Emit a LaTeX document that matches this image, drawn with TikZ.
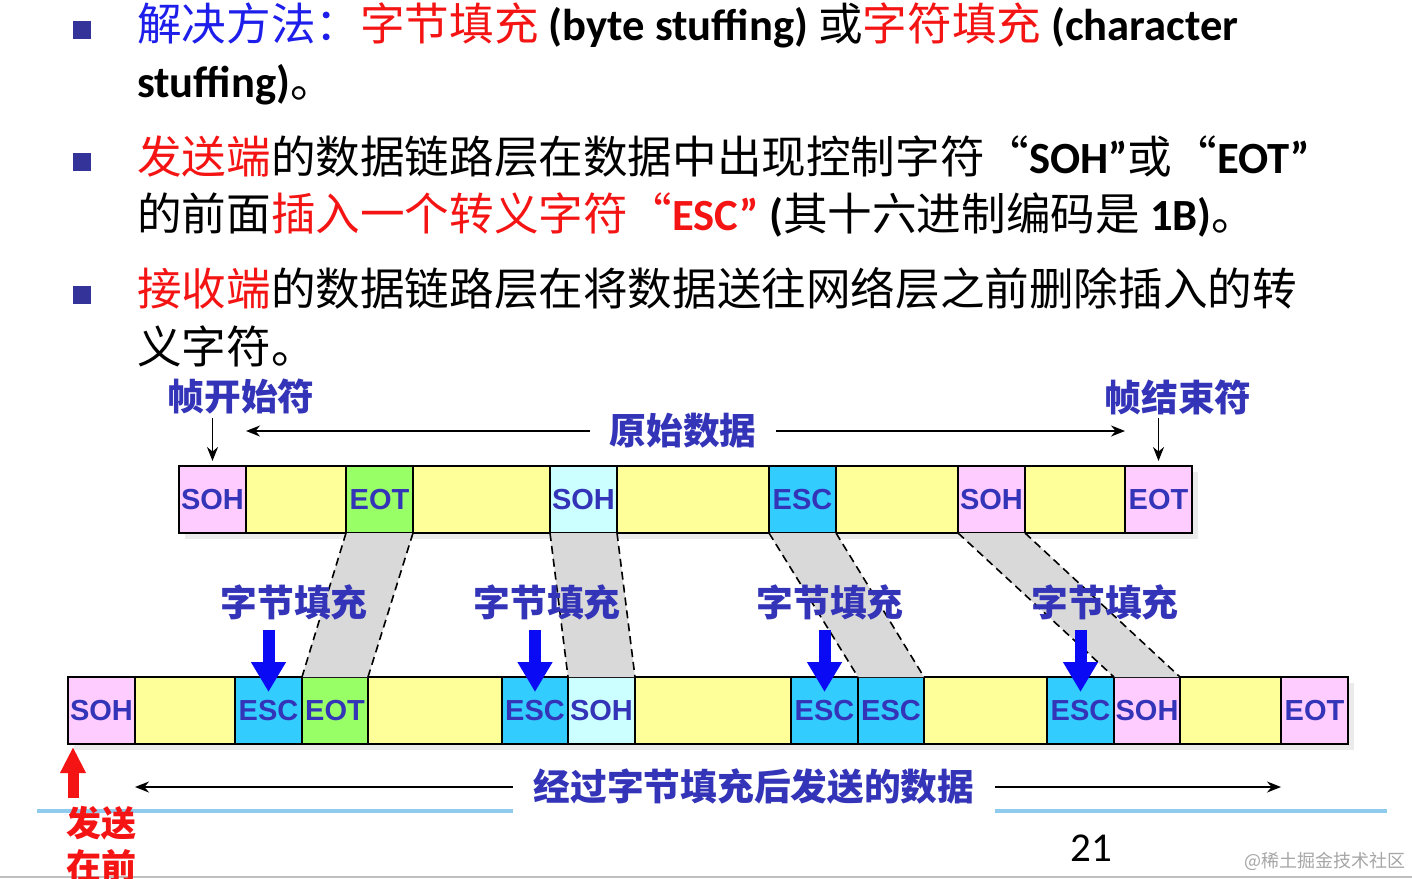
\documentclass[tikz,border=0pt]{standalone}
\usepackage{fontspec}
\setmainfont{Carlito}
\newfontfamily\zhfont{Noto Sans CJK SC}
\newfontfamily\cellfont{Liberation Sans}
\usetikzlibrary{arrows.meta,calc,positioning}
\definecolor{titleBlue}{HTML}{1E1EEB}
\definecolor{alertRed}{HTML}{F51414}
\definecolor{labelBlue}{HTML}{3434B8}
\definecolor{pureBlue}{HTML}{0A0AF5}
\definecolor{bulletNavy}{HTML}{333399}
\definecolor{pinkCell}{HTML}{FFCCFF}
\definecolor{dataYellow}{HTML}{FFFF99}
\definecolor{eotGreen}{HTML}{99FF66}
\definecolor{sohCyan}{HTML}{CCFFFF}
\definecolor{escBlue}{HTML}{33CCFF}
\definecolor{stuffGray}{HTML}{D9D9D9}
\definecolor{slideLine}{HTML}{8FCBEF}
\newcommand{\zh}[1]{{\zhfont #1}}
\newcommand{\lt}[1]{{\bfseries #1}}
\tikzset{
  cell/.style={draw=black, line width=2.4pt, minimum height=67pt, inner sep=0pt, outer sep=0pt,
    font=\cellfont\bfseries\fontsize{29}{29}\selectfont, text=labelBlue},
  headline/.style={anchor=base west, inner sep=0pt, font=\fontsize{44.6}{50}\selectfont},
  bullet/.style={fill=bulletNavy, minimum size=18pt, inner sep=0pt},
  tagLbl/.style={font=\zhfont\bfseries\fontsize{36.7}{40}\selectfont, text=labelBlue, inner sep=0pt},
  thinArrow/.style={-{Stealth[length=14pt,width=11pt]}, line width=1.8pt},
  stuffArrow/.style={-{Triangle[length=30pt,width=33pt]}, line width=12pt, draw=pureBlue},
  sendArrow/.style={-{Triangle[length=26pt,width=24pt]}, line width=11pt, draw=alertRed},
  bandEdge/.style={dash pattern=on 8pt off 5pt, line width=1.6pt},
}

\begin{document}
\begin{tikzpicture}[x=1pt,y=-1pt]
  \fill[white] (0,0) rectangle (1412,878);
  \useasboundingbox (0,0) rectangle (1412,878);
  \draw[slideLine, line width=4pt] (37,811) -- (1387,811);
  \draw[black!25, line width=1.5pt] (0,877) -- (1412,877);

  \node[bullet] (dot1) at (81.5,30) {};
  \node[bullet] (dot2) at (81.5,161.5) {};
  \node[bullet] (dot3) at (81.5,295) {};
  \node[headline] (line1) at (137,40) {\zh{\color{titleBlue}解决方法：}\zh{\color{alertRed}字节填充}\lt{ (byte stuffing) }\zh{或}\zh{\color{alertRed}字符填充}\lt{ (character}};
  \node[headline] (line2) at (137,97) {\lt{stuffing)}\zh{。}};
  \node[headline] (line3) at (137,173) {\zh{\color{alertRed}发送端}\zh{的数据链路层在数据中出现控制字符“}\lt{SOH”}\zh{或“}\lt{EOT”}};
  \node[headline] (line4) at (137,230) {\zh{的前面}{\color{alertRed}\zh{插入一个转义字符“}\lt{ESC”}}\lt{ (}\zh{其十六进制编码是}\lt{ 1B)}\zh{。}};
  \node[headline] (line5) at (137,305) {\zh{\color{alertRed}接收端}\zh{的数据链路层在将数据送往网络层之前删除插入的转}};
  \node[headline] (line6) at (137,363) {\zh{义字符。}};

  \fill[black!8] (185,472) rectangle (1198,539);
  \fill[black!8] (74,683) rectangle (1354,750);

  \node[cell, fill=pinkCell, minimum width=67pt, anchor=west] (aSoh) at (179,499.5) {SOH};
  \node[cell, fill=dataYellow, minimum width=100pt, right=0pt of aSoh] (aD1) {};
  \node[cell, fill=eotGreen, minimum width=67pt, right=0pt of aD1] (aEot) {EOT};
  \node[cell, fill=dataYellow, minimum width=137pt, right=0pt of aEot] (aD2) {};
  \node[cell, fill=sohCyan, minimum width=67pt, right=0pt of aD2] (aSohIn) {SOH};
  \node[cell, fill=dataYellow, minimum width=152pt, right=0pt of aSohIn] (aD3) {};
  \node[cell, fill=escBlue, minimum width=67pt, right=0pt of aD3] (aEsc) {ESC};
  \node[cell, fill=dataYellow, minimum width=122pt, right=0pt of aEsc] (aD4) {};
  \node[cell, fill=pinkCell, minimum width=67pt, right=0pt of aD4] (aSohIn2) {SOH};
  \node[cell, fill=dataYellow, minimum width=100pt, right=0pt of aSohIn2] (aD5) {};
  \node[cell, fill=pinkCell, minimum width=67pt, right=0pt of aD5] (aEot2) {EOT};

  \node[cell, fill=pinkCell, minimum width=67pt, anchor=west] (bSoh) at (68,710.5) {SOH};
  \node[cell, fill=dataYellow, minimum width=100pt, right=0pt of bSoh] (bD1) {};
  \node[cell, fill=escBlue, minimum width=67pt, right=0pt of bD1] (bEsc1) {ESC};
  \node[cell, fill=eotGreen, minimum width=66pt, right=0pt of bEsc1] (bEot) {EOT};
  \node[cell, fill=dataYellow, minimum width=134pt, right=0pt of bEot] (bD2) {};
  \node[cell, fill=escBlue, minimum width=66pt, right=0pt of bD2] (bEsc2) {ESC};
  \node[cell, fill=sohCyan, minimum width=67pt, right=0pt of bEsc2] (bSoh1) {SOH};
  \node[cell, fill=dataYellow, minimum width=156pt, right=0pt of bSoh1] (bD3) {};
  \node[cell, fill=escBlue, minimum width=67pt, right=0pt of bD3] (bEsc3) {ESC};
  \node[cell, fill=escBlue, minimum width=66pt, right=0pt of bEsc3] (bEsc) {ESC};
  \node[cell, fill=dataYellow, minimum width=123pt, right=0pt of bEsc] (bD4) {};
  \node[cell, fill=escBlue, minimum width=67pt, right=0pt of bD4] (bEsc4) {ESC};
  \node[cell, fill=pinkCell, minimum width=66pt, right=0pt of bEsc4] (bSoh2) {SOH};
  \node[cell, fill=dataYellow, minimum width=101pt, right=0pt of bSoh2] (bD5) {};
  \node[cell, fill=pinkCell, minimum width=67pt, right=0pt of bD5] (bEot2) {EOT};

  \fill[stuffGray] (aEot.south west) -- (aEot.south east) -- (bEot.north east) -- (bEot.north west) -- cycle;
  \fill[stuffGray] (aSohIn.south west) -- (aSohIn.south east) -- (bSoh1.north east) -- (bSoh1.north west) -- cycle;
  \fill[stuffGray] (aEsc.south west) -- (aEsc.south east) -- (bEsc.north east) -- (bEsc.north west) -- cycle;
  \fill[stuffGray] (aSohIn2.south west) -- (aSohIn2.south east) -- (bSoh2.north east) -- (bSoh2.north west) -- cycle;
  \draw[bandEdge] (aEot.south west) -- (bEot.north west) (aEot.south east) -- (bEot.north east);
  \draw[bandEdge] (aSohIn.south west) -- (bSoh1.north west) (aSohIn.south east) -- (bSoh1.north east);
  \draw[bandEdge] (aEsc.south west) -- (bEsc.north west) (aEsc.south east) -- (bEsc.north east);
  \draw[bandEdge] (aSohIn2.south west) -- (bSoh2.north west) (aSohIn2.south east) -- (bSoh2.north east);

  \node[tagLbl] (startLbl) at (241,397) {帧开始符};
  \node[tagLbl] (endLbl) at (1178,397) {帧结束符};
  \node[tagLbl, inner xsep=19.5pt] (origLbl) at (683,431) {原始数据};
  \draw[thinArrow, shorten <=3pt, shorten >=5pt] (aSoh.north |- startLbl.south) -- (aSoh.north);
  \draw[thinArrow, shorten <=3pt, shorten >=5pt] (aEot2.north |- endLbl.south) -- (aEot2.north);
  \draw[thinArrow] (origLbl.west) -- (origLbl.west -| aSoh.east);
  \draw[thinArrow] (origLbl.east) -- (origLbl.east -| aEot2.west);

  \node[tagLbl] (stuff1) at (294,602) {字节填充};
  \node[tagLbl] (stuff2) at (547,602) {字节填充};
  \node[tagLbl] (stuff3) at (830,602) {字节填充};
  \node[tagLbl] (stuff4) at (1105,602) {字节填充};
  \draw[stuffArrow] ($(bEsc1.north)+(0,-47)$) -- ($(bEsc1.north)+(0,15)$);
  \draw[stuffArrow] ($(bEsc2.north)+(0,-47)$) -- ($(bEsc2.north)+(0,15)$);
  \draw[stuffArrow] ($(bEsc3.north)+(0,-47)$) -- ($(bEsc3.north)+(0,15)$);
  \draw[stuffArrow] ($(bEsc4.north)+(0,-47)$) -- ($(bEsc4.north)+(0,15)$);

  \node[tagLbl, fill=white, inner xsep=21pt, inner ysep=8pt] (sentLbl) at (754,787) {经过字节填充后发送的数据};
  \draw[thinArrow] (sentLbl.west) -- (sentLbl.west -| bSoh.east);
  \draw[thinArrow] (sentLbl.east) -- (sentLbl.east -| bEot2.west);

  \node[anchor=north west, inner sep=0pt, align=left, text=alertRed, font=\zhfont\bfseries\fontsize{35}{43}\selectfont] (sendFirst) at (66,806) {发送\\在前};
  \draw[sendArrow] ($(sendFirst.north west)+(7,-8)$) -- ($(bSoh.south west)+(5,3)$);

  \node[font=\fontsize{41}{41}\selectfont] (pageNum) at (1091,848) {21};
  \node[font=\zhfont\fontsize{18}{18}\selectfont, text=black!35] (mark) at (1325,861) {@稀土掘金技术社区};
\end{tikzpicture}
\end{document}
